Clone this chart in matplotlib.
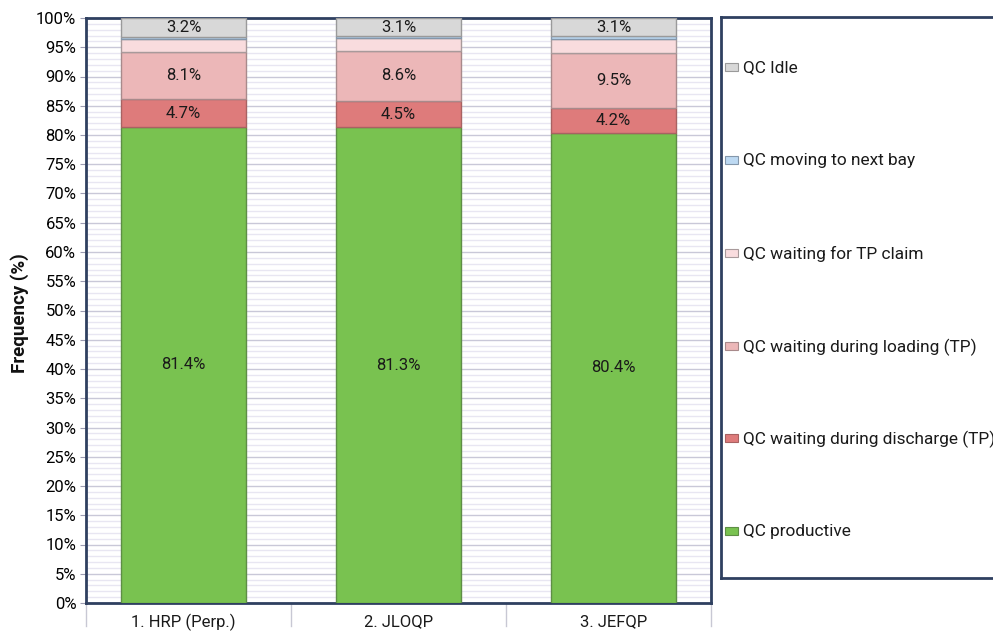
import matplotlib
matplotlib.use("Agg")
import matplotlib.pyplot as plt
import numpy as np
from matplotlib.patches import Rectangle

plt.rcParams['font.family'] = ['Roboto', 'DejaVu Sans']

categories = ["1. HRP (Perp.)", "2. JLOQP", "3. JEFQP"]
series_names = [
    "QC productive",
    "QC waiting during discharge (TP)",
    "QC waiting during loading (TP)",
    "QC waiting for TP claim",
    "QC moving to next bay",
    "QC Idle",
]
productive = [81.4, 81.3, 80.4]
wait_discharge = [4.7, 4.5, 4.2]
wait_loading = [8.1, 8.6, 9.5]
wait_tp_claim = [2.2, 2.1, 2.3]
moving_bay = [0.4, 0.4, 0.5]
idle = [3.2, 3.1, 3.1]
show_label = [True, True, True, False, False, True]

values = [productive, wait_discharge, wait_loading, wait_tp_claim, moving_bay, idle]
colors = ["#79C250", "#DE7B7B", "#ECB7B8", "#F9DCDE", "#BDD9F2", "#D8D8D8"]
edges = ["#5E8E45", "#A86262", "#A88A8B", "#A89A9B", "#8497AB", "#9A9A9A"]
navy = "#2F4060"

W, H = 993, 632
fig = plt.figure(figsize=(W / 100, H / 100), dpi=100)
ax = fig.add_axes([86 / W, (H - 603) / H, 625 / W, 585 / H])

x = np.arange(len(categories))
bottom = np.zeros(len(categories))
for vals, c, ec, lab in zip(values, colors, edges, show_label):
    vals = np.array(vals)
    ax.bar(x, vals, 0.58, bottom=bottom, color=c, edgecolor=ec, linewidth=1.0, zorder=3)
    if lab:
        for xi, b, v in zip(x, bottom, vals):
            ax.text(xi, b + v / 2, f"{v:.1f}%", ha="center", va="center",
                    fontsize=12, color="#1a1a1a", zorder=4)
    bottom += vals

ax.set_xlim(-0.4535, 2.4535)
ax.set_ylim(0, 100)
ax.set_yticks(np.arange(0, 101, 5))
ax.set_yticklabels([f"{v}%" for v in range(0, 101, 5)], fontsize=12)
ax.set_yticks(np.arange(0, 101, 1), minor=True)
ax.grid(which="major", axis="y", color="#C9C8D8", linewidth=1.0, zorder=0)
ax.grid(which="minor", axis="y", color="#E8E6F2", linewidth=1.0, zorder=0)
ax.tick_params(axis="y", which="major", length=4, color="#9A9AB0", pad=3)
ax.tick_params(axis="y", which="minor", length=0)

ax.set_xticks([])
for xi, name in zip(x, categories):
    ax.text(xi, -19 / 585, name, transform=ax.get_xaxis_transform(), ha="center",
            va="center", fontsize=12, color="#1a1a1a")
for sep in [-0.4535, 0.5, 1.5, 2.4535]:
    ax.plot([sep, sep], [0, -0.04], transform=ax.get_xaxis_transform(),
            color="#C8C8D4", linewidth=1.0, clip_on=False)

for s in ax.spines.values():
    s.set_color(navy)
    s.set_linewidth(2.0)

fig.text(20 / W, 1 - 313 / H, "Frequency (%)", rotation=90, ha="center",
         va="center", fontsize=13.5, fontweight="bold", color="#111111")

# legend panel
lax = fig.add_axes([721 / W, (H - 578) / H, 300 / W, 561 / H])
lax.set_xlim(0, 300)
lax.set_ylim(578, 17)
lax.set_xticks([])
lax.set_yticks([])
for s in lax.spines.values():
    s.set_color(navy)
    s.set_linewidth(2.0)
legend_y = [531, 438, 346, 253, 160, 67]
for name, c, ec, yy in zip(series_names, colors, edges, legend_y):
    lax.add_patch(Rectangle((4, yy - 4), 13, 8, facecolor=c, edgecolor=ec, linewidth=0.8))
    lax.text(22, yy + 1, name, va="center", ha="left", fontsize=12.4, color="#1a1a1a")

fig.savefig("out.png", dpi=100)
